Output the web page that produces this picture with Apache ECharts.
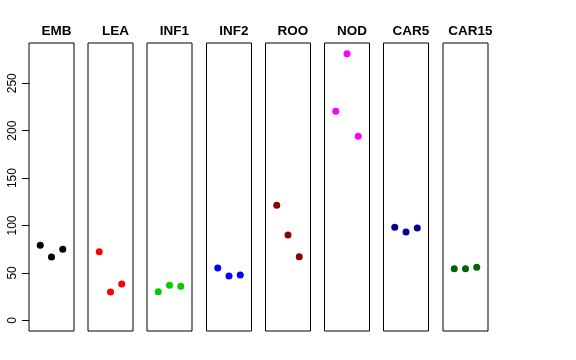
<!DOCTYPE html>
<html><head><meta charset="utf-8">
<script src="https://cdn.jsdelivr.net/npm/echarts@6/dist/echarts.min.js"></script>
<style>html,body{margin:0;padding:0;background:#fff}#c{width:576px;height:360px}</style>
</head><body><div id="c"></div>
<script>
const panels = ['EMB','LEA','INF1','INF2','ROO','NOD','CAR5','CAR15'];
const colors = ['#000000','#FF0000','#00CD00','#0000FF','#8B0000','#FF00FF','#00008B','#006400'];
const EMB = [79.1, 66.8, 74.9];
const LEA = [72.4, 29.9, 38.3];
const INF1 = [30.2, 36.9, 35.9];
const INF2 = [55.2, 46.7, 47.8];
const ROO = [121.3, 90.0, 67.1];
const NOD = [220.5, 281.2, 194.1];
const CAR5 = [98.1, 93.1, 97.4];
const CAR15 = [54.4, 54.4, 55.9];
const values = [EMB, LEA, INF1, INF2, ROO, NOD, CAR5, CAR15];
const yTicks = [0, 50, 100, 150, 200, 250];

const yMax = 281.2, pad = yMax * 0.04;
const lefts = [29, 88, 147, 206.5, 265.5, 324.5, 383.5, 443];
const pw = 45, gTop = 43, ph = 288;

const grid = [], xAxis = [], yAxis = [], series = [], title = [];
panels.forEach((p, i) => {
  grid.push({left: lefts[i], top: gTop, width: pw, height: ph, show: true,
    borderColor: '#000', borderWidth: 1, backgroundColor: 'transparent', containLabel: false});
  xAxis.push({gridIndex: i, type: 'value', min: 0, max: 4, show: false});
  yAxis.push({gridIndex: i, type: 'value', min: -pad, max: yMax + pad,
    show: i === 0, splitLine: {show: false}, axisLine: {show: false},
    axisTick: {show: i === 0, length: 7, customValues: yTicks, lineStyle: {color: '#000'}},
    axisLabel: {show: i === 0, customValues: yTicks, rotate: 90, margin: 16,
      color: '#000', fontFamily: 'Liberation Sans', fontSize: 12, verticalAlign: 'middle', align: 'center'}});
  series.push({type: 'scatter', xAxisIndex: i, yAxisIndex: i, symbolSize: 7,
    itemStyle: {color: colors[i], opacity: 1},
    data: values[i].map((v, k) => [k + 1, v])});
  title.push({text: p, left: lefts[i] + pw / 2, top: 19, textAlign: 'center',
    textStyle: {fontFamily: 'Liberation Sans', fontWeight: 'bold', fontSize: 13.5, color: '#000'}});
});

const chart = echarts.init(document.getElementById('c'), null, {renderer: 'canvas'});
chart.setOption({animation: false, title, grid, xAxis, yAxis, series});
</script></body></html>
